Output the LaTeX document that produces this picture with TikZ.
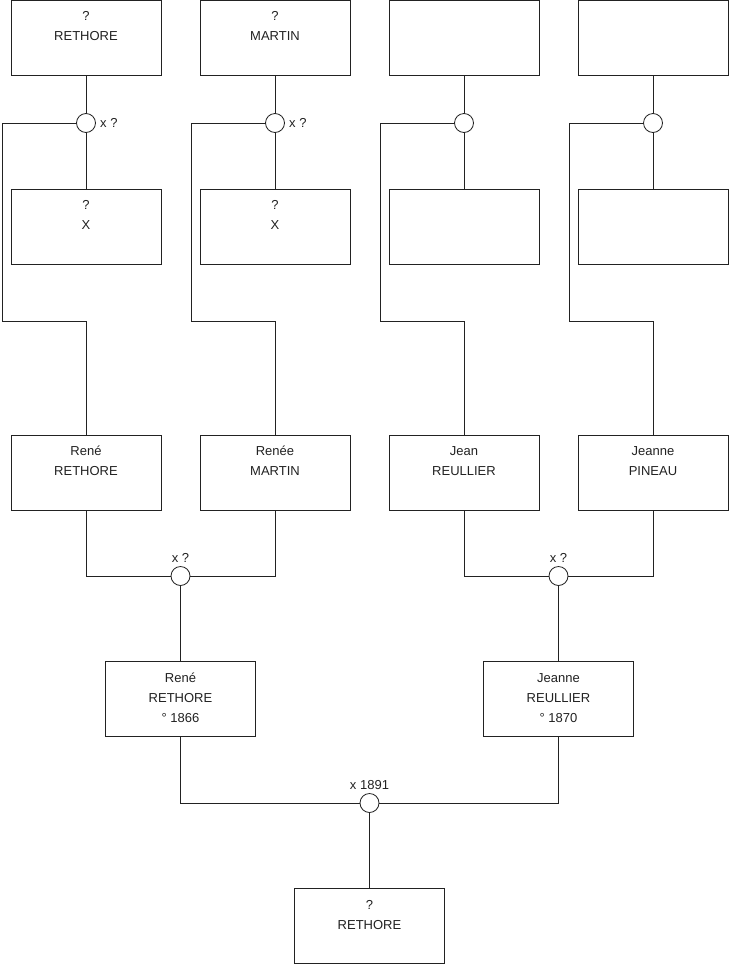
\documentclass[tikz,border=0pt]{standalone}
\usepackage{fontspec}
\setmainfont{Liberation Sans}
\usepackage{xcolor}
\usepackage{tikz}
\definecolor{ink}{HTML}{222222}
\tikzset{
  box/.style={draw=ink,rectangle,minimum width=112.5pt,minimum height=56.25pt,inner sep=0pt,line width=0.6pt,fill=white},
  who/.style={anchor=north,inner sep=0pt,yshift=-5.1pt,align=center,font=\fontsize{9.75}{15}\selectfont,text=ink},
  wed/.style={draw=ink,circle,minimum size=14.25pt,inner sep=0pt,line width=0.6pt,fill=white},
  when/.style={font=\fontsize{9.75}{11}\selectfont,text=ink,inner sep=0pt},
  ln/.style={draw=ink,line width=0.6pt},
}
\begin{document}
\begin{tikzpicture}[x=0.75pt,y=-0.75pt]
\useasboundingbox (0,0) rectangle (740,975);

% ---- great-grandparents
\node[box,label={[who]north:{\strut ?\\RETHORE}}] (a1) at (86,37.5) {};
\node[box,label={[who]north:{\strut ?\\MARTIN}}] (a2) at (275,37.5) {};
\node[box] (a3) at (464,37.5) {};
\node[box] (a4) at (653,37.5) {};

\node[box,label={[who]north:{\strut ?\\X}}] (b1) at (86,226.5) {};
\node[box,label={[who]north:{\strut ?\\X}}] (b2) at (275,226.5) {};
\node[box] (b3) at (464,226.5) {};
\node[box] (b4) at (653,226.5) {};

\node[wed,label={[when,label distance=3pt]right:x ?}] (m1) at (86,123) {};
\node[wed,label={[when,label distance=3pt]right:x ?}] (m2) at (275,123) {};
\node[wed] (m3) at (464,123) {};
\node[wed] (m4) at (653,123) {};

% ---- grandparents
\node[box,label={[who]north:{\strut René\\RETHORE}}] (f1) at (86,472.5) {};
\node[box,label={[who]north:{\strut Renée\\MARTIN}}] (f2) at (275,472.5) {};
\node[box,label={[who]north:{\strut Jean\\REULLIER}}] (f3) at (464,472.5) {};
\node[box,label={[who]north:{\strut Jeanne\\PINEAU}}] (f4) at (653,472.5) {};

\coordinate (k1) at (2,321);
\coordinate (k2) at (191,321);
\coordinate (k3) at (380,321);
\coordinate (k4) at (569,321);

\foreach \i in {1,2,3,4}{
  \draw[ln] (a\i.south) -- (m\i.north);
  \draw[ln] (m\i.south) -- (b\i.north);
  \draw[ln] (m\i.west) -| (k\i) -| (f\i.north);
}

% ---- parents
\node[wed,label={[when,label distance=2.5pt]above:x ?}] (m5) at (180.5,576) {};
\node[wed,label={[when,label distance=2.5pt]above:x ?}] (m6) at (558.5,576) {};
\node[box,label={[who]north:{\strut René\\RETHORE\\° 1866}}] (g1) at (180.5,699) {};
\node[box,label={[who]north:{\strut Jeanne\\REULLIER\\° 1870}}] (g2) at (558.5,699) {};

\draw[ln] (f1.south) |- (m5.west);
\draw[ln] (f2.south) |- (m5.east);
\draw[ln] (m5.south) -- (g1.north);
\draw[ln] (f3.south) |- (m6.west);
\draw[ln] (f4.south) |- (m6.east);
\draw[ln] (m6.south) -- (g2.north);

% ---- child
\node[wed,label={[when,label distance=2.5pt]above:x 1891}] (m7) at (369.5,803) {};
\node[box,label={[who]north:{\strut ?\\RETHORE}}] (r) at (369.5,926) {};

\draw[ln] (g1.south) |- (m7.west);
\draw[ln] (g2.south) |- (m7.east);
\draw[ln] (m7.south) -- (r.north);

\end{tikzpicture}
\end{document}
